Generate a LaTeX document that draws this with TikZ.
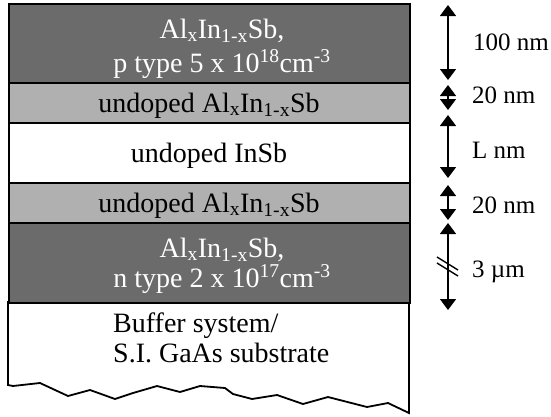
\documentclass[tikz,border=0pt]{standalone}
\usepackage{fontspec}
\setmainfont{Liberation Serif}
\usetikzlibrary{arrows.meta}
\definecolor{darkL}{HTML}{6B6B6B}
\definecolor{lightL}{HTML}{B0B0B0}
\begin{document}
\begin{tikzpicture}[x=1pt,y=-1pt,
  layer/.style={draw=black,line width=1.8pt,minimum width=401pt,inner sep=0pt,anchor=north west},
  txt/.style={anchor=base,inner sep=0pt,font=\fontsize{28}{33}\selectfont},
  wtxt/.style={txt,text=white},
  ltxt/.style={txt,anchor=base west},
  dim/.style={line width=1.4pt,{Triangle[width=16pt,length=11pt]}-{Triangle[width=16pt,length=11pt]}},
  lab/.style={anchor=base west,font=\fontsize{25}{30}\selectfont,inner sep=0pt}]
\useasboundingbox (0,0) rectangle (551,416);
% bottom substrate
\path[draw=black,line width=1.8pt,fill=white] (8,302) -- (8,385) -- (13,386) -- (40,383) -- (68,396) -- (90,390) -- (115,399) -- (133,393) -- (157,386) -- (180,392) -- (200,386) -- (225,388) -- (233,394) -- (252,399) -- (277,395) -- (303,404) -- (328,397) -- (367,407) -- (388,403) -- (409,413) -- (409,302) -- cycle;
\node[ltxt] (sub1) at (113,332) {Buffer system/};
\node[ltxt] (sub2) at (113,362) {S.I. GaAs substrate};
% layers
\node[layer,fill=darkL,minimum height=79pt] (l1) at (8,3) {};
\node[layer,fill=lightL,minimum height=40pt] (l2) at (8,82) {};
\node[layer,fill=white,minimum height=60pt] (l3) at (8,122) {};
\node[layer,fill=lightL,minimum height=40pt] (l4) at (8,182) {};
\node[layer,fill=darkL,minimum height=80pt] (l5) at (8,222) {};
\node[wtxt] (l1a) at (222,38) {Al\textsubscript{x}In\textsubscript{1-x}Sb,};
\node[wtxt] (l1b) at (222,72) {p type 5 x 10\textsuperscript{18}cm\textsuperscript{-3}};
\node[txt] (l2a) at (209,112) {undoped Al\textsubscript{x}In\textsubscript{1-x}Sb};
\node[txt] (l3a) at (209,162) {undoped InSb};
\node[txt] (l4a) at (209,212) {undoped Al\textsubscript{x}In\textsubscript{1-x}Sb};
\node[wtxt] (l5a) at (222,257) {Al\textsubscript{x}In\textsubscript{1-x}Sb,};
\node[wtxt] (l5b) at (222,287) {n type 2 x 10\textsuperscript{17}cm\textsuperscript{-3}};
% dimension arrows
\coordinate (a1t) at (448,5);   \coordinate (a1b) at (448,80);
\coordinate (a2t) at (448,85);  \coordinate (a2b) at (448,110);
\coordinate (a3t) at (448,115); \coordinate (a3b) at (448,178);
\coordinate (a4t) at (448,185); \coordinate (a4b) at (448,220);
\coordinate (a5t) at (448,223); \coordinate (a5b) at (448,310);
\draw[dim] (a1t) -- (a1b);
\draw[dim] (a2t) -- (a2b);
\draw[dim] (a3t) -- (a3b);
\draw[dim] (a4t) -- (a4b);
\draw[dim] (a5t) -- (a5b);
\coordinate (s1a) at (437,257); \coordinate (s1b) at (458,270);
\coordinate (s2a) at (437,263); \coordinate (s2b) at (458,276);
\draw[line width=1.4pt] (s1a) -- (s1b);
\draw[line width=1.4pt] (s2a) -- (s2b);
\node[lab] (t1) at (473,50) {100 nm};
\node[lab] (t2) at (472,103) {20 nm};
\node[lab] (t3) at (472,158) {L nm};
\node[lab] (t4) at (472,213) {20 nm};
\node[lab] (t5) at (472,277) {3 µm};
\end{tikzpicture}
\end{document}
